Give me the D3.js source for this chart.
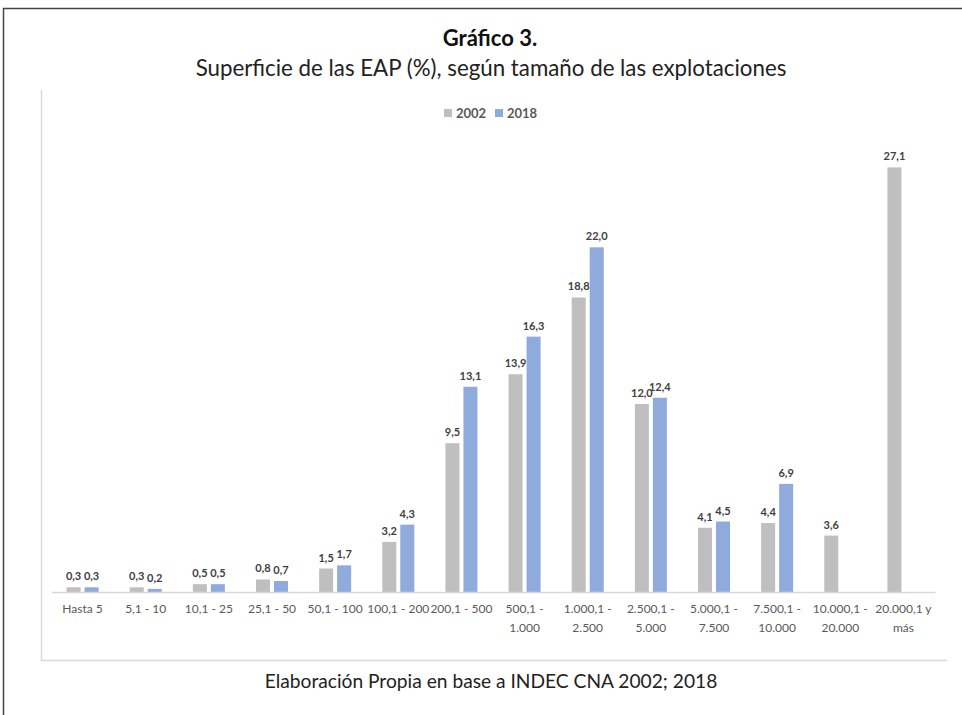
<!DOCTYPE html>
<html>
<head>
<meta charset="utf-8">
<script src="https://cdn.jsdelivr.net/npm/d3@7"></script>
<style>
  body { margin: 0; background: #fff; }
  svg { font-family: Lato, "Open Sans", sans-serif; }
  .barlabel { font-size: 11px; font-weight: bold; fill: #404040; text-anchor: middle; }
  .catlabel { font-size: 12px; fill: #595959; text-anchor: middle; }
</style>
</head>
<body>
<svg id="chart" width="962" height="715"></svg>
<script>
// categories (size ranges, ha) -- each entry may hold two lines
const categories = [
  ["Hasta 5"], ["5,1 - 10"], ["10,1 - 25"], ["25,1 - 50"], ["50,1 - 100"],
  ["100,1 - 200"], ["200,1 - 500"], ["500,1 -", "1.000"], ["1.000,1 -", "2.500"],
  ["2.500,1 -", "5.000"], ["5.000,1 -", "7.500"], ["7.500,1 -", "10.000"],
  ["10.000,1 -", "20.000"], ["20.000,1 y", "más"]
];
const series = ["2002", "2018"];
const values2002 = [0.3, 0.3, 0.5, 0.8, 1.5, 3.2, 9.5, 13.9, 18.8, 12.0, 4.1, 4.4, 3.6, 27.1];
const values2018 = [0.3, 0.2, 0.5, 0.7, 1.7, 4.3, 13.1, 16.3, 22.0, 12.4, 4.5, 6.9, null, null];
const colors = ["#bfbfbf", "#8faadc"];

let svg = d3.select("svg#chart");

// outer frame and inner chart area borders
svg.append("rect")
  .attr("x", 3.5).attr("y", 8.5).attr("width", 975).attr("height", 720)
  .attr("fill", "none").attr("stroke", "#444").attr("stroke-width", 1.5);
svg.append("path")
  .attr("d", "M41.5,90 V660.5 H947")
  .attr("fill", "none").attr("stroke", "#d9d9d9").attr("stroke-width", 1.5);

// titles
svg.append("text")
  .attr("x", 490).attr("y", 46).attr("text-anchor", "middle")
  .style("font-size", "22px").style("font-weight", "bold").style("fill", "#111")
  .text("Gráfico 3.");
svg.append("text")
  .attr("x", 491).attr("y", 76).attr("text-anchor", "middle")
  .style("font-size", "22.3px").style("fill", "#222")
  .text("Superficie de las EAP (%), según tamaño de las explotaciones");

// caption
svg.append("text")
  .attr("x", 491).attr("y", 688).attr("text-anchor", "middle")
  .style("font-size", "19.2px").style("fill", "#222")
  .text("Elaboración Propia en base a INDEC CNA 2002; 2018");

// legend
let legend = svg.append("g").attr("class", "legend").selectAll("g")
  .data(series).enter().append("g")
  .attr("transform", function(d, i) { return "translate(" + (444 + 51*i) + ",109)"; });
legend.append("rect")
  .attr("width", 8).attr("height", 8)
  .attr("fill", function(d, i) { return colors[i]; });
legend.append("text")
  .attr("x", 12).attr("y", 9)
  .style("font-size", "13px").style("font-weight", "bold").style("fill", "#595959")
  .text(function(d) { return d; });

// scales
let x0 = d3.scaleBand()
  .domain(d3.range(categories.length))
  .range([51, 935])
  .paddingInner(0.493).paddingOuter(0.2465);
let x1 = d3.scaleBand()
  .domain(series)
  .range([0, x0.bandwidth()])
  .paddingInner(0.222);
let y = d3.scaleLinear()
  .domain([0, 30])
  .range([592, 122]);

let rows = categories.map(function(c, i) {
  return { idx: i, vals: [values2002[i], values2018[i]] };
});

let groups = svg.append("g").attr("class", "bars").selectAll("g")
  .data(rows).enter().append("g")
  .attr("transform", function(d) { return "translate(" + x0(d.idx) + ",0)"; });

let cells = groups.selectAll("g")
  .data(function(d) {
    return series.map(function(s, j) { return { key: s, j: j, value: d.vals[j] }; })
      .filter(function(e) { return e.value !== null; });
  })
  .enter().append("g");

cells.append("rect")
  .attr("x", function(d) { return x1(d.key); })
  .attr("width", x1.bandwidth())
  .attr("y", function(d) { return y(d.value); })
  .attr("height", function(d) { return y(0) - y(d.value); })
  .attr("fill", function(d) { return colors[d.j]; });

cells.append("text")
  .attr("class", "barlabel")
  .attr("x", function(d) { return x1(d.key) + x1.bandwidth()/2; })
  .attr("y", function(d) { return y(d.value) - 7; })
  .text(function(d) { return d3.format(".1f")(d.value).replace(".", ","); });

// x axis
let axis = svg.append("g")
  .attr("class", "axis")
  .attr("transform", "translate(0," + y(0) + ")")
  .call(d3.axisBottom(x0).tickSize(0).tickFormat(""));
axis.select(".domain").attr("stroke", "#d9d9d9").attr("stroke-width", 1.5);

let labels = svg.append("g").selectAll("text")
  .data(categories).enter().append("text")
  .attr("class", "catlabel")
  .attr("x", function(d, i) { return x0(i) + x0.bandwidth()/2; })
  .attr("y", 613);
labels.selectAll("tspan")
  .data(function(d) { return d; })
  .enter().append("tspan")
  .attr("x", function() { return d3.select(this.parentNode).attr("x"); })
  .attr("dy", function(d, i) { return i === 0 ? 0 : 19; })
  .text(function(d) { return d; });
</script>
</body>
</html>
